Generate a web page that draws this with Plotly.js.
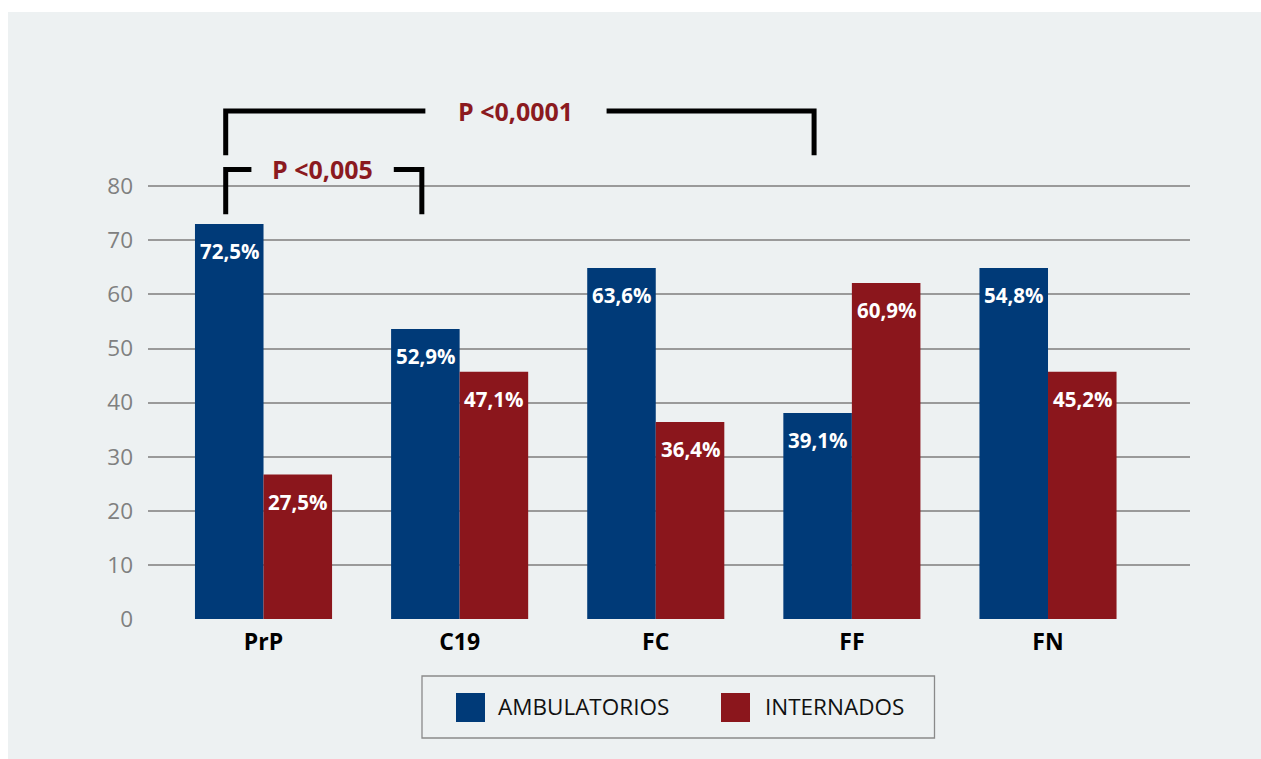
<!DOCTYPE html>
<html>
<head>
<meta charset="utf-8">
<script src="https://cdn.plot.ly/plotly-3.0.1.min.js"></script>
<style>html,body{margin:0;padding:0;background:#fff;}#chart{width:1261px;height:759px;}</style>
</head>
<body>
<div id="chart"></div>
<script>
// ---- data ----
const categories = ['PrP', 'C19', 'FC', 'FF', 'FN'];
const seriesNames = ['AMBULATORIOS', 'INTERNADOS'];
const ambulatorios = [73.0, 53.6, 64.9, 38.1, 64.9];
const internados = [26.7, 45.7, 36.4, 62.1, 45.7];
const ambLabels = ['72,5%', '52,9%', '63,6%', '39,1%', '54,8%'];
const intLabels = ['27,5%', '47,1%', '36,4%', '60,9%', '45,2%'];
const yTicks = [0, 10, 20, 30, 40, 50, 60, 70, 80];
const comparisons = [
  {from: 0, to: 1, label: 'P <0,005'},
  {from: 0, to: 3, label: 'P <0,0001'}
];

// ---- style ----
const BLUE = '#003A78', RED = '#8B161C', BG = '#EDF1F2', PRED = '#8B1A1F';
const FONT = 'Open Sans, Noto Sans, sans-serif';
const W = 1261, H = 759, ML = 148, MR = 71, MT = 78, MB = 140;
const PW = W - ML - MR, PH = H - MT - MB;
const px = x => (x - ML) / PW;
const py = y => (H - MB - y) / PH;
const BARGAP = 0.301;
const half = (1 - BARGAP) / 4; // center offset of each bar in a group

const traces = [
  {type: 'bar', name: seriesNames[0], x: categories, y: ambulatorios, marker: {color: BLUE}, hoverinfo: 'skip'},
  {type: 'bar', name: seriesNames[1], x: categories, y: internados, marker: {color: RED}, hoverinfo: 'skip'}
];

const annotations = [];
categories.forEach((c, i) => {
  annotations.push({x: i - half, y: ambulatorios[i], xref: 'x', yref: 'y', text: ambLabels[i], showarrow: false,
    yanchor: 'middle', yshift: -27, font: {family: FONT, size: 20.5, color: '#fff', weight: 'bold'}});
  annotations.push({x: i + half, y: internados[i], xref: 'x', yref: 'y', text: intLabels[i], showarrow: false,
    yanchor: 'middle', yshift: -27, font: {family: FONT, size: 20.5, color: '#fff', weight: 'bold'}});
});

const shapes = [
  // white strips at top and left of the picture
  {type: 'rect', xref: 'paper', yref: 'paper', x0: px(0), x1: px(W), y0: py(12), y1: py(0), fillcolor: '#fff', line: {width: 0}, layer: 'below'},
  {type: 'rect', xref: 'paper', yref: 'paper', x0: px(0), x1: px(8), y0: py(H), y1: py(0), fillcolor: '#fff', line: {width: 0}, layer: 'below'}
];

// brackets
const BOFF = 0.018;
const levels = [{top: 83.1, bottom: 74.8, gap: 0.363, shift: -0.006}, {top: 93.9, bottom: 85.7, gap: 0.462, shift: -0.02}];
comparisons.forEach((cmp, k) => {
  const lv = levels[k];
  const x1 = cmp.from - half - BOFF, x2 = cmp.to - half - BOFF;
  const xm = (x1 + x2) / 2 + lv.shift;
  shapes.push({type: 'path', xref: 'x', yref: 'y', line: {color: '#000', width: 5},
    path: `M${x1},${lv.bottom} L${x1},${lv.top} L${xm - lv.gap},${lv.top}`});
  shapes.push({type: 'path', xref: 'x', yref: 'y', line: {color: '#000', width: 5},
    path: `M${xm + lv.gap},${lv.top} L${x2},${lv.top} L${x2},${lv.bottom}`});
  annotations.push({x: xm, y: lv.top, xref: 'x', yref: 'y', text: cmp.label, showarrow: false,
    yanchor: 'middle', font: {family: FONT, size: 25, color: PRED, weight: 'bold'}});
});

// legend drawn by hand
shapes.push({type: 'rect', xref: 'paper', yref: 'paper', x0: px(422), x1: px(934.5), y0: py(738), y1: py(676),
  line: {color: '#8a8a8a', width: 1.3}, fillcolor: 'rgba(0,0,0,0)'});
const legendItems = [{sx: 456, tx: 496, color: BLUE}, {sx: 721, tx: 763, color: RED}];
legendItems.forEach((it, i) => {
  shapes.push({type: 'rect', xref: 'paper', yref: 'paper', x0: px(it.sx), x1: px(it.sx + 29), y0: py(722), y1: py(693),
    fillcolor: it.color, line: {width: 0}});
  annotations.push({xref: 'paper', yref: 'paper', x: px(it.tx), y: py(706.5), xanchor: 'left', yanchor: 'middle',
    text: seriesNames[i], showarrow: false, font: {family: FONT, size: 22.5, color: '#111'}});
});

const layout = {
  width: W, height: H,
  margin: {l: ML, r: MR, t: MT, b: MB, pad: 0},
  paper_bgcolor: BG, plot_bgcolor: BG,
  barmode: 'group', bargap: BARGAP, bargroupgap: 0,
  showlegend: false,
  xaxis: {type: 'category', range: [-0.589, 4.724], showgrid: false, zeroline: false, showline: false, ticks: '',
    ticklabelstandoff: 7,
    tickfont: {family: FONT, size: 23, color: '#000', weight: 'bold'}, fixedrange: true},
  yaxis: {range: [0, 100], tickvals: yTicks, ticktext: yTicks.map(String), showgrid: true, gridcolor: '#9a9a9a', gridwidth: 2,
    zeroline: false, showline: false, ticks: '', ticklabelstandoff: 14,
    tickfont: {family: FONT, size: 22.5, color: '#808080'}, fixedrange: true},
  shapes: shapes,
  annotations: annotations
};

Plotly.newPlot('chart', traces, layout, {displayModeBar: false, staticPlot: true});
</script>
</body>
</html>
